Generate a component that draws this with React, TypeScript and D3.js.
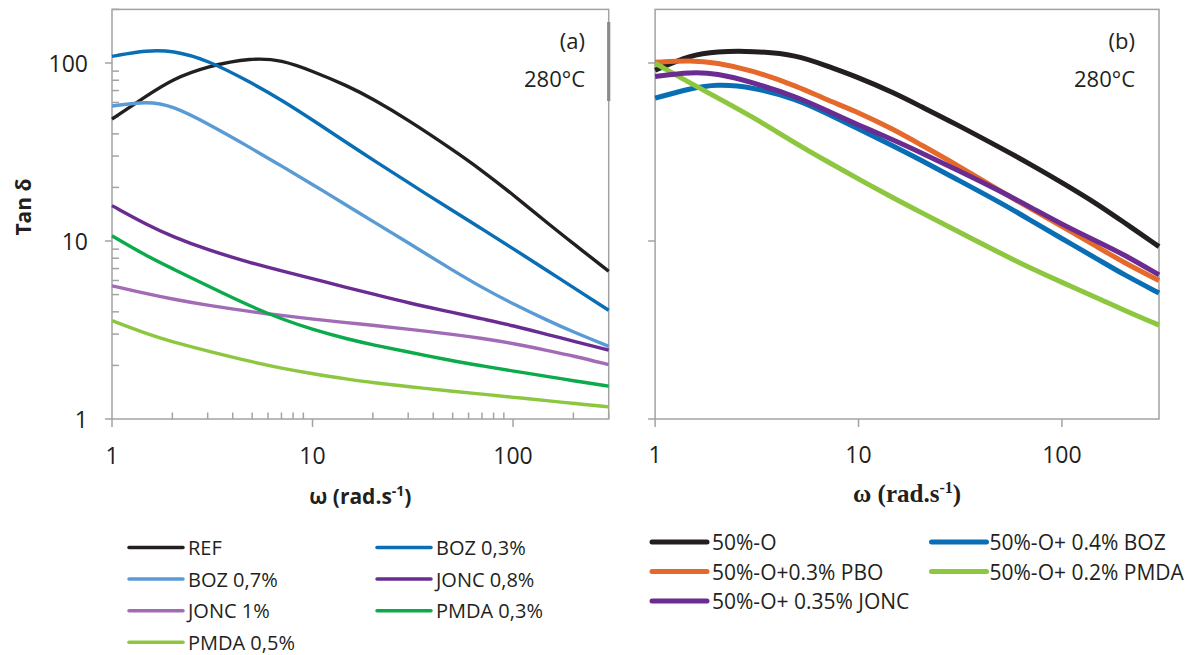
import React from 'react';
import * as d3 from 'd3';

// angular frequency (rad/s) sampling points
const omega = [1, 1.5, 2, 3, 5, 7, 10, 15, 20, 30, 50, 70, 100, 150, 200, 300];

// panel (a)
const refA = [48.4, 65.7, 81, 96, 107, 104, 90, 74.3, 62.8, 47.9, 32.6, 24.9, 18.2, 12.5, 9.67, 6.76];
const boz03 = [109, 118, 117.5, 104, 77, 62, 47.9, 35.3, 28.6, 21.3, 14.8, 11.7, 9.06, 6.76, 5.48, 4.08];
const boz07 = [57.3, 61, 57.5, 45.7, 33, 26.4, 20.8, 15.7, 12.9, 9.77, 6.84, 5.48, 4.43, 3.56, 3.08, 2.56];
const jonc08 = [15.8, 12.3, 10.6, 8.9, 7.5, 6.8, 6.15, 5.46, 5.04, 4.49, 3.97, 3.65, 3.35, 2.97, 2.74, 2.44];
const jonc1 = [5.6, 5.05, 4.72, 4.35, 4.0, 3.82, 3.64, 3.47, 3.36, 3.2, 2.99, 2.84, 2.66, 2.42, 2.26, 2.02];
const pmda03 = [10.7, 8.2, 7.0, 5.6, 4.25, 3.65, 3.18, 2.81, 2.61, 2.38, 2.12, 1.99, 1.86, 1.73, 1.64, 1.53];
const pmda05 = [3.57, 3.0, 2.71, 2.41, 2.09, 1.93, 1.795, 1.675, 1.6, 1.52, 1.43, 1.38, 1.325, 1.265, 1.224, 1.17];

// panel (b)
const o50 = [91, 111, 116, 117, 111, 96, 83, 67.8, 57.4, 45.5, 33.3, 27, 21.3, 16.1, 12.8, 9.3];
const o50boz = [63.5, 72, 76, 73.5, 62.5, 52, 42.6, 34, 28.7, 22.4, 16.4, 13.1, 10.3, 7.9, 6.5, 5.1];
const o50pbo = [101, 103.5, 100.5, 91, 74, 62, 52.8, 42.1, 35.0, 27, 19.0, 15.2, 12.1, 9.25, 7.6, 6.0];
const o50pmda = [99.6, 76.8, 64.3, 50, 34.9, 28.0, 22.3, 17.3, 14.6, 11.5, 8.5, 7.05, 5.85, 4.78, 4.1, 3.37];
const o50jonc = [84, 89, 87.5, 78, 64.5, 54, 44.8, 36.8, 31.6, 25.3, 19.0, 15.5, 12.4, 9.9, 8.45, 6.45];

const namesA = ['REF', 'BOZ 0,3%', 'BOZ 0,7%', 'JONC 0,8%', 'JONC 1%', 'PMDA 0,3%', 'PMDA 0,5%'];
const colorsA = ['#231F20', '#0A6EB4', '#5B9BD5', '#6A2C91', '#A26BB6', '#0BAA4B', '#8DC63F'];
const valuesA = [refA, boz03, boz07, jonc08, jonc1, pmda03, pmda05];

const namesB = ['50%-O', '50%-O+ 0.4% BOZ', '50%-O+0.3% PBO', '50%-O+ 0.2% PMDA', '50%-O+ 0.35% JONC'];
const colorsB = ['#231F20', '#0A6EB4', '#E5692A', '#8DC63F', '#6A2C91'];
const valuesB = [o50, o50boz, o50pbo, o50pmda, o50jonc];

const xTickLabels = ['1', '10', '100'];
const yTickLabels = ['1', '10', '100'];

const W = 1192;
const H = 655;
const yTop = 9.4;
const yBot = 419;
const xA = d3.scaleLog().domain([1, 300]).range([112, 608.7]);
const xB = d3.scaleLog().domain([1, 300]).range([655.1, 1159]);
const y = d3.scaleLog().domain([1, 200]).range([yBot, yTop]);

const FRAME = '#A3A3A3';
const TEXT = '#231F20';
const FONT = "'Open Sans', sans-serif";

function linePath(x: d3.ScaleLogarithmic<number, number>, vals: number[]) {
  const gen = d3
    .line<number>()
    .x((_, i) => x(omega[i]))
    .y((d) => y(d))
    .curve(d3.curveBasis);
  return gen(vals) || '';
}

const isMajor = (v: number) => Math.abs(Math.log10(v) - Math.round(Math.log10(v))) < 1e-9;

export default function App() {
  const xTicksA = xA.ticks();
  const yTicks = y.ticks();
  const [xa0, xa1] = xA.range();
  const [xb0, xb1] = xB.range();

  return (
    <svg
      width={W}
      height={H}
      viewBox={`0 0 ${W} ${H}`}
      style={{ position: 'absolute', left: 0, top: 0, background: '#fff' }}
    >
      <rect x={0} y={0} width={W} height={H} fill="#fff" />

      {/* ---------- Panel (a) ---------- */}
      <g>
        {yTicks.filter((v) => !isMajor(v)).map((v) => (
          <line key={'ya' + v} x1={xa0} x2={xa0 + 7} y1={y(v)} y2={y(v)} stroke={FRAME} strokeWidth={1.5} />
        ))}
        {[1, 10, 100].map((v) => (
          <line key={'yam' + v} x1={xa0 - 7} x2={xa0} y1={y(v)} y2={y(v)} stroke={FRAME} strokeWidth={1.5} />
        ))}
        {xTicksA.filter((v) => !isMajor(v)).map((v) => (
          <line key={'xa' + v} x1={xA(v)} x2={xA(v)} y1={yBot - 6.5} y2={yBot} stroke={FRAME} strokeWidth={1.5} />
        ))}
        {[1, 10, 100].map((v) => (
          <line key={'xam' + v} x1={xA(v)} x2={xA(v)} y1={yBot} y2={yBot + 8} stroke={FRAME} strokeWidth={1.5} />
        ))}
        <rect x={xa0} y={yTop} width={xa1 - xa0} height={yBot - yTop} fill="none" stroke={FRAME} strokeWidth={1.5} />
        <rect x={xa1 - 1.6} y={22} width={3.2} height={79} fill="#8A8A8A" />

        {valuesA.map((vals, i) => (
          <path key={'la' + i} d={linePath(xA, vals)} fill="none" stroke={colorsA[i]} strokeWidth={3.4} strokeLinejoin="round" />
        ))}

        {yTickLabels.map((t) => (
          <text key={'yl' + t} x={88} y={y(+t)} textAnchor="end" dominantBaseline="central" fontFamily={FONT} fontSize={23} fill={TEXT}>
            {t}
          </text>
        ))}
        {xTickLabels.map((t) => (
          <text key={'xla' + t} x={xA(+t)} y={455} textAnchor="middle" dominantBaseline="central" fontFamily={FONT} fontSize={23} fill={TEXT}>
            {t}
          </text>
        ))}
        <text x={585} y={49} textAnchor="end" fontFamily={FONT} fontSize={22} fill={TEXT}>(a)</text>
        <text x={585} y={87} textAnchor="end" fontFamily={FONT} fontSize={22} fill={TEXT}>280°C</text>

        <text x={(xa0 + xa1) / 2} y={504} textAnchor="middle" fontFamily={FONT} fontSize={21} fontWeight="bold" fill={TEXT}>
          ω (rad.s<tspan dy={-8} fontSize={14}>-1</tspan><tspan dy={8}>)</tspan>
        </text>
        <text transform={`translate(31,207) rotate(-90)`} textAnchor="middle" fontFamily={FONT} fontSize={21} fontWeight="bold" fill={TEXT}>
          Tan δ
        </text>

        {namesA.map((n, i) => {
          const col = i % 2;
          const row = Math.floor(i / 2);
          const lx = col === 0 ? 129 : 377;
          const ly = 547.5 + row * 31.6;
          return (
            <g key={'lga' + i}>
              <line x1={lx} x2={lx + 54} y1={ly} y2={ly} stroke={colorsA[i]} strokeWidth={3.5} strokeLinecap="round" />
              <text x={lx + 59} y={ly} dominantBaseline="central" fontFamily={FONT} fontSize={20} fill={TEXT}>{n}</text>
            </g>
          );
        })}
      </g>

      {/* ---------- Panel (b) ---------- */}
      <g>
        {[1, 10, 100].map((v) => (
          <line key={'ybm' + v} x1={xb0 - 7} x2={xb0} y1={y(v)} y2={y(v)} stroke={FRAME} strokeWidth={1.5} />
        ))}
        {[1, 10, 100].map((v) => (
          <line key={'xbm' + v} x1={xB(v)} x2={xB(v)} y1={yBot} y2={yBot + 8} stroke={FRAME} strokeWidth={1.5} />
        ))}
        <rect x={xb0} y={yTop} width={xb1 - xb0} height={yBot - yTop} fill="none" stroke={FRAME} strokeWidth={1.5} />

        {valuesB.map((vals, i) => (
          <path key={'lb' + i} d={linePath(xB, vals)} fill="none" stroke={colorsB[i]} strokeWidth={5} strokeLinejoin="round" />
        ))}

        {xTickLabels.map((t) => (
          <text key={'xlb' + t} x={xB(+t)} y={454} textAnchor="middle" dominantBaseline="central" fontFamily={FONT} fontSize={23} fill={TEXT}>
            {t}
          </text>
        ))}
        <text x={1135} y={49} textAnchor="end" fontFamily={FONT} fontSize={22} fill={TEXT}>(b)</text>
        <text x={1135} y={87} textAnchor="end" fontFamily={FONT} fontSize={22} fill={TEXT}>280°C</text>

        <text x={(xb0 + xb1) / 2} y={502} textAnchor="middle" fontFamily="'Liberation Serif', serif" fontSize={25} fontWeight="bold" fill={TEXT}>
          ω (rad.s<tspan dy={-9} fontSize={16}>-1</tspan><tspan dy={9}>)</tspan>
        </text>

        {namesB.map((n, i) => {
          const col = i % 2;
          const row = Math.floor(i / 2);
          const lx = col === 0 ? 652 : 931.5;
          const ly = 542 + row * 29.5;
          return (
            <g key={'lgb' + i}>
              <line x1={lx} x2={lx + 55} y1={ly} y2={ly} stroke={colorsB[i]} strokeWidth={5} strokeLinecap="round" />
              <text x={lx + (col === 0 ? 60 : 58)} y={ly} dominantBaseline="central" fontFamily={FONT} fontSize={21} fill={TEXT}>{n}</text>
            </g>
          );
        })}
      </g>
    </svg>
  );
}
